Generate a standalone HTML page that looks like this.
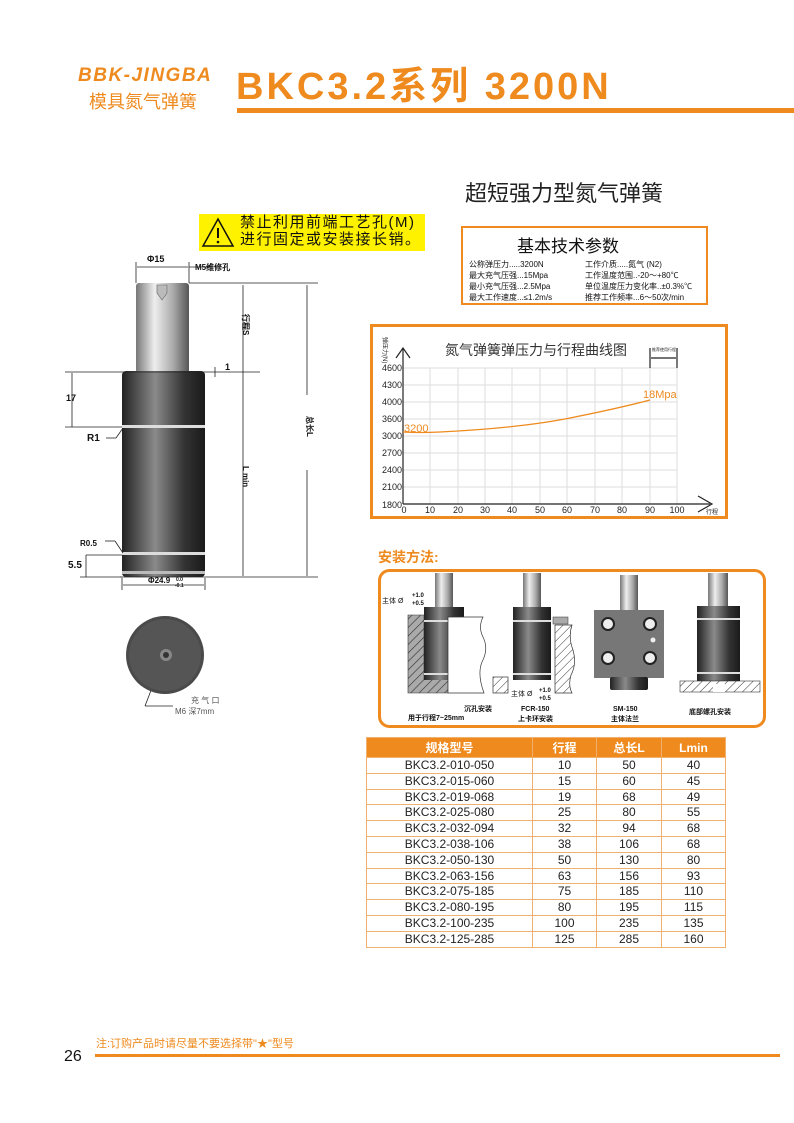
<!DOCTYPE html>
<html><head><meta charset="utf-8"><style>
*{margin:0;padding:0;box-sizing:border-box}
body{width:794px;height:1123px;background:#fff;position:relative;overflow:hidden;font-family:"Liberation Sans","Noto Sans CJK SC",sans-serif;color:#111}
.a{position:absolute;white-space:nowrap}
.o{color:#ee8a1e}
table{border-collapse:collapse}
tbody td{border:1px solid #f0b070;padding:0}
</style></head><body>
<div class="a o" style="left:78px;top:65px;font-size:19px;font-weight:bold;font-style:italic;letter-spacing:1.5px">BBK-JINGBA</div>
<div class="a o" style="left:89px;top:88px;font-size:18px">模具氮气弹簧</div>
<div class="a o" style="left:236px;top:55px;font-size:38px;font-weight:bold;letter-spacing:3px">BKC3.2系列 3200N</div>
<div class="a" style="left:237px;top:108px;width:557px;height:5px;background:#ee8a1e"></div>
<div class="a" style="left:465px;top:176px;font-size:22px;color:#222">超短强力型氮气弹簧</div>

<div class="a" style="left:199px;top:214px;width:226px;height:37px;background:#fff200"></div>
<svg class="a" style="left:201px;top:216px" width="34" height="32"><polygon points="17,3 32,30 2,30" fill="none" stroke="#111" stroke-width="1.5"/><line x1="17" y1="12" x2="17" y2="22" stroke="#111" stroke-width="2"/><circle cx="17" cy="26" r="1.3" fill="#111"/></svg>
<div class="a" style="left:240px;top:214px;font-size:15px;line-height:17px;letter-spacing:1.5px">禁止利用前端工艺孔(M)<br>进行固定或安装接长销。</div>

<div class="a" style="left:461px;top:226px;width:247px;height:79px;border:2px solid #ee8a1e"></div>
<div class="a" style="left:517px;top:232px;font-size:17px">基本技术参数</div>
<div class="a" style="left:469px;top:259px;font-size:8px;line-height:11px">公称弹压力.....3200N<br>最大充气压强...15Mpa<br>最小充气压强...2.5Mpa<br>最大工作速度...≤1.2m/s</div>
<div class="a" style="left:585px;top:259px;font-size:8px;line-height:11px">工作介质.....氮气 (N2)<br>工作温度范围..-20～+80℃<br>单位温度压力变化率..±0.3%℃<br>推荐工作频率...6～50次/min</div>

<svg class="a" style="left:0;top:0" width="794" height="1123">
<rect x="371.5" y="325.5" width="355" height="192" fill="#fff" stroke="#ee8a1e" stroke-width="3"/>
<g stroke="#ddd" stroke-width="1">
<line x1="403" y1="368" x2="677" y2="368"/><line x1="403" y1="385" x2="677" y2="385"/><line x1="403" y1="402" x2="677" y2="402"/><line x1="403" y1="419" x2="677" y2="419"/><line x1="403" y1="436" x2="677" y2="436"/><line x1="403" y1="453" x2="677" y2="453"/><line x1="403" y1="470" x2="677" y2="470"/><line x1="403" y1="487" x2="677" y2="487"/>
<line x1="430" y1="368" x2="430" y2="504"/><line x1="458" y1="368" x2="458" y2="504"/><line x1="485" y1="368" x2="485" y2="504"/><line x1="512" y1="368" x2="512" y2="504"/><line x1="540" y1="368" x2="540" y2="504"/><line x1="567" y1="368" x2="567" y2="504"/><line x1="595" y1="368" x2="595" y2="504"/><line x1="622" y1="368" x2="622" y2="504"/><line x1="650" y1="368" x2="650" y2="504"/><line x1="677" y1="368" x2="677" y2="504"/>
</g>
<g stroke="#222" stroke-width="1.2" fill="none">
<line x1="403" y1="348" x2="403" y2="504"/><line x1="403" y1="504" x2="710" y2="504"/>
<polyline points="396,358 403,348 410,358"/><polyline points="698,496 712,504 698,512"/>
<line x1="650" y1="348" x2="650" y2="368"/><line x1="677" y1="348" x2="677" y2="368"/><line x1="651" y1="358" x2="676" y2="358"/>
</g>
<path d="M403,432 Q420,433 440,432 Q520,428 570,418 Q620,408 650,400" fill="none" stroke="#ee8a1e" stroke-width="1.3"/>
<g font-size="9" fill="#222" text-anchor="end" font-family="Liberation Sans">
<text x="402" y="371">4600</text><text x="402" y="388">4300</text><text x="402" y="405">4000</text><text x="402" y="422">3600</text><text x="402" y="439">3000</text><text x="402" y="456">2700</text><text x="402" y="473">2400</text><text x="402" y="490">2100</text><text x="402" y="508">1800</text>
</g>
<g font-size="9" fill="#222" text-anchor="middle" font-family="Liberation Sans">
<text x="404" y="513">0</text><text x="430" y="513">10</text><text x="458" y="513">20</text><text x="485" y="513">30</text><text x="512" y="513">40</text><text x="540" y="513">50</text><text x="567" y="513">60</text><text x="595" y="513">70</text><text x="622" y="513">80</text><text x="650" y="513">90</text><text x="677" y="513">100</text>
</g>
<text x="706" y="514" font-size="6" fill="#222">行程</text>
<text x="652" y="351" font-size="4" fill="#222">推荐使用行程</text>
<text x="385" y="345" font-size="6" fill="#222" transform="rotate(90 388 340)">弹压力(N)</text>
<text x="445" y="355" font-size="14" fill="#333">氮气弹簧弹压力与行程曲线图</text>
<text x="404" y="432" font-size="11" fill="#ee8a1e">3200</text>
<text x="643" y="398" font-size="11" fill="#ee8a1e">18Mpa</text>

<defs>
<linearGradient id="rod" x1="0" x2="1"><stop offset="0" stop-color="#777"/><stop offset="0.35" stop-color="#eee"/><stop offset="0.7" stop-color="#aaa"/><stop offset="1" stop-color="#555"/></linearGradient>
<linearGradient id="bod" x1="0" x2="1"><stop offset="0" stop-color="#222"/><stop offset="0.4" stop-color="#8a8a8a"/><stop offset="0.75" stop-color="#333"/><stop offset="1" stop-color="#1a1a1a"/></linearGradient>
<pattern id="h" width="6" height="6" patternUnits="userSpaceOnUse" patternTransform="rotate(45)"><rect width="6" height="6" fill="#aaa"/><line x1="0" y1="0" x2="0" y2="6" stroke="#333" stroke-width="1.2"/></pattern>
<pattern id="h2" width="6" height="6" patternUnits="userSpaceOnUse" patternTransform="rotate(45)"><rect width="6" height="6" fill="#fff"/><line x1="0" y1="0" x2="0" y2="6" stroke="#333" stroke-width="1"/></pattern>
</defs>
<rect x="136" y="283" width="53" height="90" rx="3" fill="url(#rod)"/>
<path d="M157,285 h10 v8 l-5,7 l-5,-7z" fill="#bbb" stroke="#666" stroke-width="0.6"/>
<rect x="122" y="371" width="83" height="206" rx="4" fill="url(#bod)"/>
<rect x="122" y="425" width="83" height="3" fill="#ddd"/>
<rect x="122" y="552" width="83" height="3" fill="#ddd"/>
<rect x="122" y="571" width="83" height="3" fill="#bbb"/>
<g stroke="#222" stroke-width="0.8" fill="none">
<line x1="189" y1="283" x2="318" y2="283"/><line x1="65" y1="372" x2="260" y2="372"/><line x1="120" y1="577" x2="318" y2="577"/>
<line x1="243" y1="285" x2="243" y2="576"/><line x1="307" y1="285" x2="307" y2="395"/><line x1="307" y1="470" x2="307" y2="576"/>
<line x1="72" y1="373" x2="72" y2="427"/><line x1="65" y1="427" x2="122" y2="427"/>
<line x1="136" y1="262" x2="136" y2="283"/><line x1="189" y1="262" x2="189" y2="283"/><line x1="137" y1="267" x2="188" y2="267"/>
<line x1="189" y1="267" x2="210" y2="267"/>
<line x1="86" y1="555" x2="122" y2="555"/><line x1="86" y1="555" x2="86" y2="577"/><line x1="80" y1="577" x2="122" y2="577"/>
<line x1="122" y1="578" x2="122" y2="590"/><line x1="205" y1="578" x2="205" y2="590"/><line x1="123" y1="585" x2="204" y2="585"/>
<line x1="106" y1="438" x2="116" y2="438"/><line x1="116" y1="438" x2="123" y2="428"/>
<line x1="105" y1="541" x2="115" y2="541"/><line x1="115" y1="541" x2="123" y2="553"/>
<line x1="215" y1="367" x2="215" y2="377"/>
<line x1="160" y1="667" x2="145" y2="706"/><line x1="145" y1="706" x2="173" y2="706"/>
</g>
<g font-size="9" font-weight="bold" fill="#111" font-family="Liberation Sans">
<text x="147" y="262">Φ15</text><text x="195" y="270" font-size="8">M5维修孔</text>
<text x="225" y="370">1</text><text x="66" y="401">17</text><text x="87" y="441" font-size="10">R1</text>
<text x="80" y="546" font-size="8">R0.5</text><text x="68" y="568" font-size="10">5.5</text>
<text x="148" y="583" font-size="8">Φ24.9</text><text x="176" y="581" font-size="5">0.0</text><text x="175" y="587" font-size="5">-0.1</text>
<text x="239" y="318" font-size="8" transform="rotate(90 243 318)">行程S</text>
<text x="239" y="470" font-size="8" transform="rotate(90 243 470)">L min</text>
<text x="303" y="420" font-size="8" transform="rotate(90 307 420)">总长L</text>
</g>
<circle cx="165" cy="655" r="39" fill="#4a4a4a"/>
<circle cx="165" cy="655" r="36" fill="#555"/>
<circle cx="166" cy="655" r="6" fill="#888"/><circle cx="166" cy="655" r="3" fill="#333"/>
<text x="191" y="703" font-size="8" fill="#555">充 气 口</text>
<text x="175" y="714" font-size="8" fill="#555">M6 深7mm</text>

<text x="378" y="562" font-size="14" font-weight="bold" fill="#ee8a1e">安装方法:</text>
<rect x="379.5" y="570.5" width="385" height="156" rx="10" fill="#fff" stroke="#ee8a1e" stroke-width="3"/>
<path d="M408,615 h16 v64 h24 v14 h-40z" fill="url(#h)" stroke="#333" stroke-width="0.6"/>
<rect x="435" y="573" width="18" height="36" fill="url(#rod)"/>
<rect x="424" y="607" width="40" height="73" fill="url(#bod)"/>
<rect x="424" y="620" width="40" height="2" fill="#ddd"/><rect x="424" y="673" width="40" height="2" fill="#ddd"/>
<path d="M448,617 h35 q-5,10 0,20 q6,12 -1,25 q-5,12 2,31 h-36z" fill="#fff" stroke="#333" stroke-width="0.7"/>
<rect x="523" y="573" width="18" height="36" fill="url(#rod)"/>
<rect x="513" y="607" width="38" height="73" fill="url(#bod)"/>
<rect x="513" y="620" width="38" height="2" fill="#ddd"/><rect x="513" y="673" width="38" height="2" fill="#ddd"/>
<rect x="553" y="617" width="15" height="7" fill="#aaa" stroke="#333" stroke-width="0.5"/>
<path d="M555,625 h17 q-4,12 1,25 q4,14 -2,25 q-3,10 1,18 h-17z" fill="url(#h2)" stroke="#333" stroke-width="0.7"/>
<rect x="493" y="677" width="15" height="16" fill="url(#h2)" stroke="#333" stroke-width="0.7"/>
<rect x="620" y="575" width="18" height="36" fill="url(#rod)"/>
<rect x="594" y="610" width="70" height="68" fill="#777"/>
<rect x="610" y="677" width="38" height="13" rx="2" fill="url(#bod)"/>
<g fill="#eee" stroke="#222" stroke-width="2"><circle cx="608" cy="624" r="6"/><circle cx="650" cy="624" r="6"/><circle cx="608" cy="658" r="6"/><circle cx="650" cy="658" r="6"/></g>
<circle cx="653" cy="640" r="2.5" fill="#eee"/>
<rect x="708" y="573" width="20" height="35" fill="url(#rod)"/>
<rect x="697" y="606" width="43" height="75" fill="url(#bod)"/>
<rect x="697" y="618" width="43" height="2" fill="#ddd"/><rect x="697" y="672" width="43" height="2" fill="#ddd"/>
<rect x="680" y="681" width="80" height="11" fill="url(#h2)" stroke="#333" stroke-width="0.6"/>
<rect x="713" y="684" width="12" height="8" fill="#fff"/>
<g font-size="7" fill="#111" font-weight="bold">
<text x="382" y="603" font-weight="normal">主体 Ø</text><text x="412" y="597" font-size="6">+1.0</text><text x="412" y="605" font-size="6">+0.5</text>
<text x="511" y="696" font-weight="normal">主体 Ø</text><text x="539" y="692" font-size="6">+1.0</text><text x="539" y="700" font-size="6">+0.5</text>
<text x="464" y="711">沉孔安装</text><text x="408" y="720">用于行程7~25mm</text>
<text x="521" y="711">FCR-150</text><text x="518" y="721">上卡环安装</text>
<text x="613" y="711">SM-150</text><text x="611" y="721">主体法兰</text>
<text x="689" y="714">底部螺孔安装</text>
</g>
<line x1="95" y1="1055.5" x2="780" y2="1055.5" stroke="#ee8a1e" stroke-width="3"/>
</svg>

<table class="a" style="left:366px;top:737px;width:360px;font-size:12px;text-align:center;color:#222">
<tr style="background:#ee8a1e;color:#fff;font-weight:bold;height:20px"><td style="width:166px">规格型号</td><td style="width:64px">行程</td><td style="width:65px">总长L</td><td>Lmin</td></tr>
<tbody style="line-height:14.8px">
<tr><td>BKC3.2-010-050</td><td>10</td><td>50</td><td>40</td></tr>
<tr><td>BKC3.2-015-060</td><td>15</td><td>60</td><td>45</td></tr>
<tr><td>BKC3.2-019-068</td><td>19</td><td>68</td><td>49</td></tr>
<tr><td>BKC3.2-025-080</td><td>25</td><td>80</td><td>55</td></tr>
<tr><td>BKC3.2-032-094</td><td>32</td><td>94</td><td>68</td></tr>
<tr><td>BKC3.2-038-106</td><td>38</td><td>106</td><td>68</td></tr>
<tr><td>BKC3.2-050-130</td><td>50</td><td>130</td><td>80</td></tr>
<tr><td>BKC3.2-063-156</td><td>63</td><td>156</td><td>93</td></tr>
<tr><td>BKC3.2-075-185</td><td>75</td><td>185</td><td>110</td></tr>
<tr><td>BKC3.2-080-195</td><td>80</td><td>195</td><td>115</td></tr>
<tr><td>BKC3.2-100-235</td><td>100</td><td>235</td><td>135</td></tr>
<tr><td>BKC3.2-125-285</td><td>125</td><td>285</td><td>160</td></tr>
</tbody></table>

<div class="a o" style="left:96px;top:1035px;font-size:11px">注:订购产品时请尽量不要选择带"★"型号</div>
<div class="a" style="left:64px;top:1048px;font-size:16px">26</div>
</body></html>
